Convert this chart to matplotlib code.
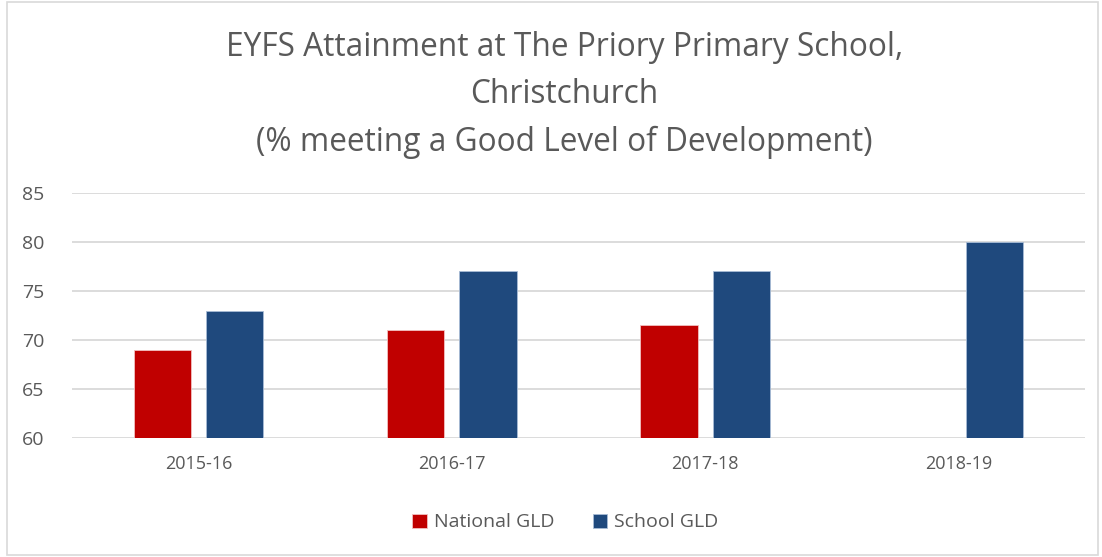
import numpy as np
import matplotlib.pyplot as plt
from matplotlib.patches import Rectangle

years = ["2015-16", "2016-17", "2017-18", "2018-19"]
national_gld = [69, 71, 71.5, np.nan]
school_gld = [73, 77, 77, 80]

plt.rcParams['font.family'] = ['Open Sans', 'DejaVu Sans']

fig = plt.figure(figsize=(11.02, 5.57), dpi=100)
ax = fig.add_axes([0.0653, 0.2136, 0.9193, 0.4399])

x = np.arange(len(years))
w = 0.226
off = 0.143
red = '#c00000'
blue = '#1f497d'
ax.bar(x - off, national_gld, w, color=red, edgecolor='#f2c0c0', linewidth=0.6, label='National GLD', zorder=3)
ax.bar(x + off, school_gld, w, color=blue, edgecolor='#a8bcd6', linewidth=0.6, label='School GLD', zorder=3)

ax.set_ylim(60, 85)
ax.set_yticks([60, 65, 70, 75, 80, 85])
ax.set_xlim(-0.5, len(years) - 0.5)
ax.set_xticks(x)
ax.set_xticklabels(years)
ax.grid(axis='y', color='#d9d9d9', linewidth=1.3, zorder=0)
for s in ax.spines.values():
    s.set_visible(False)
ax.tick_params(axis='both', length=0, labelsize=13, colors='#595959')
ax.tick_params(axis='x', pad=12)
ax.tick_params(axis='y', pad=20, labelsize=14)

fig.text(0.512, 0.945, "EYFS Attainment at The Priory Primary School,\nChristchurch\n(% meeting a Good Level of Development)",
         ha='center', va='top', fontsize=22.8, color='#595959', linespacing=1.58)

fig.legend(loc='center', bbox_to_anchor=(0.513, 0.062), ncol=2, frameon=False,
           fontsize=14, labelcolor='#595959', handlelength=0.75, handleheight=0.75,
           columnspacing=2.0, handletextpad=0.35)

fig.patches.append(Rectangle((0.006, 0.003), 0.99, 0.994, transform=fig.transFigure,
                             fill=False, edgecolor='#d9d9d9', linewidth=1.2))

fig.savefig("out.png", dpi=100)
